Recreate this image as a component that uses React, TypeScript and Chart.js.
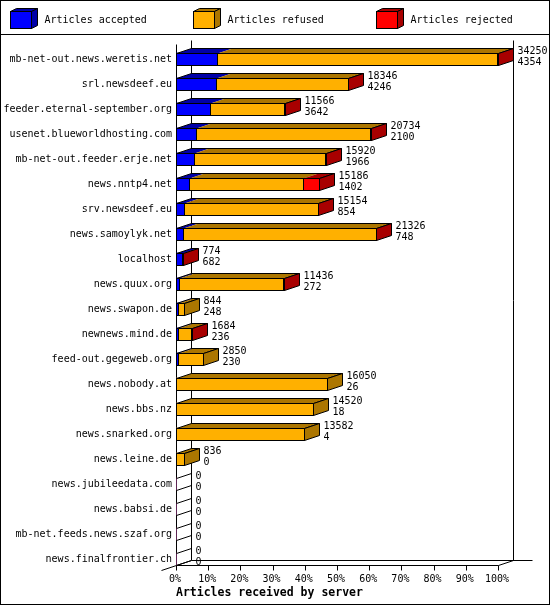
import React, { useEffect, useRef } from "react";
import { Chart, registerables } from "chart.js";

Chart.register(...registerables);

const servers = [
  "mb-net-out.news.weretis.net",
  "srl.newsdeef.eu",
  "feeder.eternal-september.org",
  "usenet.blueworldhosting.com",
  "mb-net-out.feeder.erje.net",
  "news.nntp4.net",
  "srv.newsdeef.eu",
  "news.samoylyk.net",
  "localhost",
  "news.quux.org",
  "news.swapon.de",
  "newnews.mind.de",
  "feed-out.gegeweb.org",
  "news.nobody.at",
  "news.bbs.nz",
  "news.snarked.org",
  "news.leine.de",
  "news.jubileedata.com",
  "news.babsi.de",
  "mb-net.feeds.news.szaf.org",
  "news.finalfrontier.ch",
];

const accepted = [4354, 4246, 3642, 2100, 1966, 1402, 854, 748, 682, 272, 248, 236, 230, 26, 18, 4, 0, 0, 0, 0, 0];
const refused = [29836, 14060, 7889, 18544, 13924, 12084, 14275, 20538, 22, 11134, 596, 1338, 2620, 16024, 14502, 13578, 836, 0, 0, 0, 0];
const rejected = [60, 40, 35, 90, 30, 1700, 25, 40, 70, 30, 0, 110, 0, 0, 0, 0, 0, 0, 0, 0, 0];

const seriesLabels = ["Articles accepted", "Articles refused", "Articles rejected"];
const frontColors = ["#0000ff", "#ffb000", "#ff0000"];
const shadeColors = ["#0000a8", "#ac7600", "#a80000"];
const axisTitle = "Articles received by server";
const percentSteps = [0, 10, 20, 30, 40, 50, 60, 70, 80, 90, 100];

const totals = servers.map((_, i) => accepted[i] + refused[i] + rejected[i]);
const maxTotal = Math.max(...totals);

const MONO = "'DejaVu Sans Mono', monospace";
const DX = 15;
const DY = 5;

const threeDPlugin = {
  id: "threeD",
  beforeDraw(chart: any) {
    const { ctx, width, height } = chart;
    ctx.save();
    ctx.fillStyle = "#ffffff";
    ctx.fillRect(0, 0, width, height);
    ctx.restore();
  },
  beforeDatasetsDraw(chart: any) {
    const { ctx, chartArea, scales } = chart;
    const xs = scales.x;
    const ys = scales.y;
    const L = Math.round(xs.getPixelForValue(0)) + 0.5;
    const R = Math.round(xs.getPixelForValue(xs.max)) + 0.5;
    const lastY = ys.getPixelForValue(servers.length - 1);
    const floorY = Math.round(lastY + 6) + 0.5;
    const backTop = Math.round(chartArea.top - 6.5) + 0.5;
    const frontTop = backTop + 4;
    ctx.save();
    ctx.strokeStyle = "#000";
    ctx.lineWidth = 1;
    const line = (x1: number, y1: number, x2: number, y2: number) => {
      ctx.beginPath();
      ctx.moveTo(x1, y1);
      ctx.lineTo(x2, y2);
      ctx.stroke();
    };
    line(L, frontTop, L, floorY);
    line(L + DX, backTop, L + DX, floorY - DY);
    line(R + DX, backTop, R + DX, floorY - DY);
    line(L + DX, floorY - DY, R + DX + 19, floorY - DY);
    line(L, floorY, R, floorY);
    line(R, floorY, R + DX, floorY - DY);
    line(L - DX, floorY + DY, L + DX, floorY - DY);
    percentSteps.forEach((p) => {
      const px = Math.round(xs.getPixelForValue((p / 100) * maxTotal)) + 0.5;
      line(px, floorY, px, floorY + 5);
    });
    ctx.restore();
  },
  afterDatasetsDraw(chart: any) {
    const { ctx, scales } = chart;
    const xs = scales.x;
    const ys = scales.y;
    const L0 = Math.round(xs.getPixelForValue(0)) + 0.5;
    ctx.save();
    ctx.lineWidth = 1;
    ctx.strokeStyle = "#000";
    servers.forEach((_, i) => {
      const yc = ys.getPixelForValue(i);
      const fy0 = Math.round(yc - 6) + 0.5;
      const fy1 = fy0 + 12;
      const segs: { k: number; x0: number; x1: number }[] = [];
      for (let k = 0; k < 3; k++) {
        const el = chart.getDatasetMeta(k).data[i];
        const v = chart.data.datasets[k].data[i];
        if (!el || !(v > 0)) continue;
        const x0 = Math.round(Math.min(el.base, el.x)) + 0.5;
        const x1 = Math.round(Math.max(el.base, el.x)) + 0.5;
        segs.push({ k, x0, x1 });
      }
      if (segs.length === 0) {
        ctx.beginPath();
        ctx.moveTo(L0, fy0);
        ctx.lineTo(L0 + DX, fy0 - DY);
        ctx.moveTo(L0, fy1);
        ctx.lineTo(L0 + DX, fy1 - DY);
        ctx.stroke();
      } else {
        const start = segs[0].x0;
        const end = segs[segs.length - 1].x1;
        segs.forEach((s) => {
          ctx.fillStyle = shadeColors[s.k];
          ctx.beginPath();
          ctx.moveTo(s.x0, fy0);
          ctx.lineTo(s.x1, fy0);
          ctx.lineTo(s.x1 + DX, fy0 - DY);
          ctx.lineTo(s.x0 + DX, fy0 - DY);
          ctx.closePath();
          ctx.fill();
        });
        segs.forEach((s) => {
          ctx.fillStyle = frontColors[s.k];
          ctx.fillRect(s.x0, fy0, s.x1 - s.x0, fy1 - fy0);
          ctx.strokeRect(s.x0, fy0, s.x1 - s.x0, fy1 - fy0);
        });
        ctx.beginPath();
        ctx.moveTo(start, fy0);
        ctx.lineTo(start + DX, fy0 - DY);
        ctx.lineTo(end + DX, fy0 - DY);
        ctx.lineTo(end, fy0);
        ctx.stroke();
        const last = segs[segs.length - 1];
        ctx.fillStyle = shadeColors[last.k];
        ctx.beginPath();
        ctx.moveTo(end, fy0);
        ctx.lineTo(end + DX, fy0 - DY);
        ctx.lineTo(end + DX, fy1 - DY);
        ctx.lineTo(end, fy1);
        ctx.closePath();
        ctx.fill();
        ctx.stroke();
      }
      const endX = segs.length ? segs[segs.length - 1].x1 : L0;
      ctx.fillStyle = "#000";
      ctx.font = `10px ${MONO}`;
      ctx.textAlign = "left";
      ctx.textBaseline = "middle";
      ctx.fillText(String(totals[i]), endX + DX + 4, yc - 8);
      ctx.fillText(String(accepted[i]), endX + DX + 4, yc + 3);
    });
    ctx.restore();
  },
  afterDraw(chart: any) {
    const { ctx, width, height } = chart;
    ctx.save();
    ctx.lineWidth = 1;
    ctx.strokeStyle = "#000";
    seriesLabels.forEach((label, k) => {
      const bx = 10 + 183 * k + 0.5;
      const by = 11.5;
      const w = 21;
      const h = 17;
      ctx.fillStyle = shadeColors[k];
      ctx.beginPath();
      ctx.moveTo(bx, by);
      ctx.lineTo(bx + w, by);
      ctx.lineTo(bx + w + 6, by - 3);
      ctx.lineTo(bx + 6, by - 3);
      ctx.closePath();
      ctx.fill();
      ctx.stroke();
      ctx.beginPath();
      ctx.moveTo(bx + w, by);
      ctx.lineTo(bx + w + 6, by - 3);
      ctx.lineTo(bx + w + 6, by + h - 3);
      ctx.lineTo(bx + w, by + h);
      ctx.closePath();
      ctx.fill();
      ctx.stroke();
      ctx.fillStyle = frontColors[k];
      ctx.fillRect(bx, by, w, h);
      ctx.strokeRect(bx, by, w, h);
      ctx.fillStyle = "#000";
      ctx.font = `10px ${MONO}`;
      ctx.textAlign = "left";
      ctx.textBaseline = "middle";
      ctx.fillText(label, bx + 34, 20);
    });
    ctx.beginPath();
    ctx.moveTo(0, 34.5);
    ctx.lineTo(width, 34.5);
    ctx.stroke();
    ctx.strokeRect(0.5, 0.5, width - 1, height - 1);
    ctx.restore();
  },
};

export default function App() {
  const canvasRef = useRef<HTMLCanvasElement | null>(null);

  useEffect(() => {
    document.body.style.margin = "0";
    const canvas = canvasRef.current;
    if (!canvas) return;
    const chart = new Chart(canvas, {
      type: "bar",
      data: {
        labels: servers,
        datasets: [accepted, refused, rejected].map((d, k) => ({
          label: seriesLabels[k],
          data: d,
          backgroundColor: frontColors[k],
          borderWidth: 0,
          barThickness: 12,
        })),
      },
      options: {
        indexAxis: "y",
        responsive: false,
        maintainAspectRatio: false,
        animation: false,
        devicePixelRatio: 1,
        events: [],
        layout: { padding: { top: 46.5, right: 52, bottom: 0, left: 0 } },
        plugins: {
          legend: { display: false },
          tooltip: { enabled: false },
          title: { display: false },
        },
        scales: {
          x: {
            type: "linear",
            stacked: true,
            min: 0,
            max: maxTotal,
            grid: { display: false, drawTicks: false },
            border: { display: false },
            afterFit: (scale: any) => {
              scale.height = 33.5;
            },
            afterBuildTicks: (scale: any) => {
              scale.ticks = percentSteps.map((p) => ({ value: (p / 100) * maxTotal }));
            },
            ticks: {
              autoSkip: false,
              maxRotation: 0,
              padding: 1.5,
              labelOffset: -1,
              color: "#000",
              font: { family: MONO, size: 10 },
              callback: (v: any) => Math.round((Number(v) / maxTotal) * 100) + "%",
            },
            title: {
              display: true,
              text: axisTitle,
              align: "start",
              color: "#000",
              font: { family: MONO, size: 11.5, weight: "bold" },
              padding: { top: 0, bottom: 5.5 },
            },
          },
          y: {
            type: "category",
            stacked: true,
            grid: { display: false, drawTicks: false },
            border: { display: false },
            afterFit: (scale: any) => {
              scale.width = 176;
            },
            ticks: {
              autoSkip: false,
              padding: 4,
              color: "#000",
              font: { family: MONO, size: 10 },
            },
          },
        },
      },
      plugins: [threeDPlugin],
    } as any);
    return () => chart.destroy();
  }, []);

  return (
    <div style={{ width: 550, height: 605 }}>
      <canvas ref={canvasRef} width={550} height={605} style={{ display: "block" }} />
    </div>
  );
}
